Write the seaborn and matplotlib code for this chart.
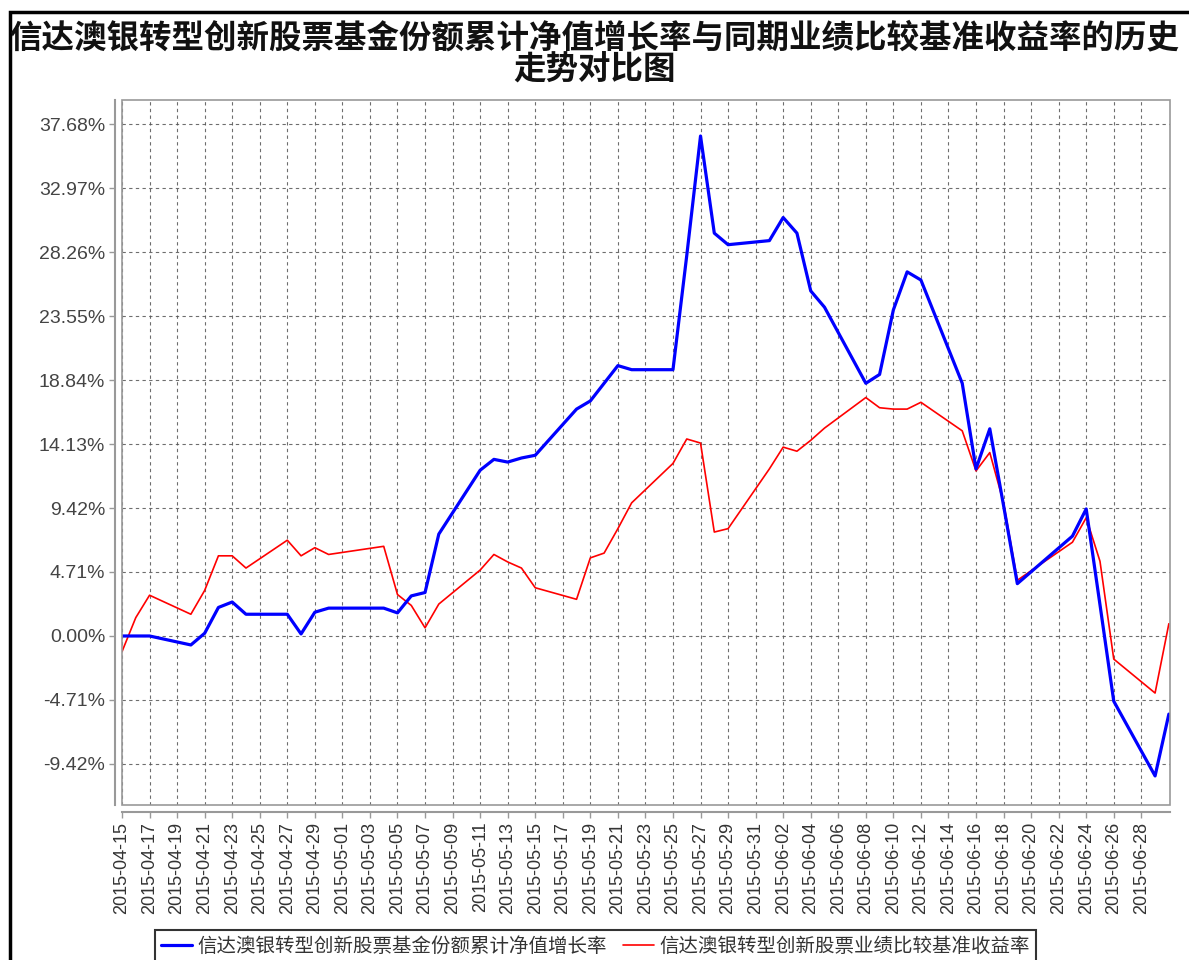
import matplotlib
matplotlib.use("Agg")
import matplotlib.pyplot as plt
import matplotlib.dates as mdates
from matplotlib.patches import Rectangle
import seaborn as sns
import pandas as pd

# ---------------- data ----------------
dates = [
    "2015-04-15", "2015-04-16", "2015-04-17", "2015-04-20", "2015-04-21", "2015-04-22",
    "2015-04-23", "2015-04-24", "2015-04-27", "2015-04-28", "2015-04-29", "2015-04-30",
    "2015-05-04", "2015-05-05", "2015-05-06", "2015-05-07", "2015-05-08", "2015-05-11",
    "2015-05-12", "2015-05-13", "2015-05-14", "2015-05-15", "2015-05-18", "2015-05-19",
    "2015-05-20", "2015-05-21", "2015-05-22", "2015-05-25", "2015-05-26", "2015-05-27",
    "2015-05-28", "2015-05-29",
    "2015-06-01", "2015-06-02", "2015-06-03", "2015-06-04", "2015-06-05", "2015-06-08",
    "2015-06-09", "2015-06-10", "2015-06-11", "2015-06-12", "2015-06-15", "2015-06-16",
    "2015-06-17", "2015-06-18", "2015-06-19", "2015-06-23", "2015-06-24", "2015-06-25",
    "2015-06-26", "2015-06-29", "2015-06-30",
]

fund_growth = [
    0.00, 0.00, 0.00, -0.66, 0.20, 2.10, 2.50, 1.60, 1.60, 0.15, 1.75, 2.05,
    2.05, 1.70, 2.95, 3.20, 7.50, 12.20, 13.00, 12.80, 13.10, 13.30, 16.70, 17.30,
    18.60, 19.90, 19.60, 19.60, 28.00, 36.80, 29.65, 28.80,
    29.10, 30.80, 29.65, 25.40, 24.20, 18.60, 19.25, 24.00, 26.80, 26.20, 18.60, 12.30,
    15.25, 9.60, 3.85, 7.35, 9.35, 2.30, -4.80, -10.30, -5.75,
]

benchmark_return = [
    -1.15, 1.35, 3.00, 1.60, 3.35, 5.90, 5.90, 5.00, 7.05, 5.90, 6.50, 6.00,
    6.60, 3.05, 2.25, 0.60, 2.35, 4.85, 6.00, 5.45, 5.00, 3.55, 2.70, 5.75,
    6.10, 7.90, 9.80, 12.70, 14.50, 14.20, 7.65, 7.90,
    12.30, 13.90, 13.60, 14.40, 15.30, 17.55, 16.80, 16.70, 16.70, 17.20, 15.10, 12.15,
    13.50, 9.80, 4.10, 6.90, 8.70, 5.50, -1.70, -4.20, 0.90,
]

ytick_values = [-9.42, -4.71, 0.00, 4.71, 9.42, 14.13, 18.84, 23.55, 28.26, 32.97, 37.68]
ytick_labels = ["-9.42%", "-4.71%", "0.00%", "4.71%", "9.42%", "14.13%",
                "18.84%", "23.55%", "28.26%", "32.97%", "37.68%"]

title_line1 = "信达澳银转型创新股票基金份额累计净值增长率与同期业绩比较基准收益率的历史"
title_line2 = "走势对比图"
fund_label = "信达澳银转型创新股票基金份额累计净值增长率"
bench_label = "信达澳银转型创新股票业绩比较基准收益率"

# ---------------- style ----------------
sns.set_theme(style="white")
plt.rcParams["font.family"] = ["Liberation Sans", "Noto Sans CJK SC", "DejaVu Sans"]

W, H = 1189, 960
fig = plt.figure(figsize=(W / 100, H / 100), dpi=100)
fig.patch.set_facecolor("white")

left, right, top, bottom = 122, 1170, 100, 805
ax = fig.add_axes([left / W, 1 - bottom / H, (right - left) / W, (bottom - top) / H])

df_fund = pd.DataFrame({"date": pd.to_datetime(dates), "value": fund_growth})
df_bench = pd.DataFrame({"date": pd.to_datetime(dates), "value": benchmark_return})

sns.lineplot(data=df_fund, x="date", y="value", ax=ax, color="#0000FF",
             linewidth=2.3, label=fund_label, zorder=4)
sns.lineplot(data=df_bench, x="date", y="value", ax=ax, color="#FF0000",
             linewidth=1.2, label=bench_label, zorder=3)

handles, labels = ax.get_legend_handles_labels()
if ax.get_legend() is not None:
    ax.get_legend().remove()

ax.set_xlim(pd.Timestamp("2015-04-15"), pd.Timestamp("2015-06-30") + pd.Timedelta(hours=2))
ax.set_ylim(-12.44, 39.45)

xt = pd.date_range("2015-04-15", "2015-06-28", freq="2D")
ax.set_xticks(xt)
ax.xaxis.set_major_formatter(mdates.DateFormatter("%Y-%m-%d"))
ax.set_yticks(ytick_values)
ax.set_yticklabels(ytick_labels)
ax.set_xlabel("")
ax.set_ylabel("")

ax.grid(True, color="#555555", linestyle=(0, (3, 3)), linewidth=0.8, alpha=0.85)

for s in ["top", "right"]:
    ax.spines[s].set_visible(False)
for s in ["left", "bottom"]:
    ax.spines[s].set_position(("outward", 5))
    ax.spines[s].set_color("#999999")
    ax.spines[s].set_linewidth(1.5)

ax.add_patch(Rectangle((0, 0), 1, 1, transform=ax.transAxes, fill=False,
                       edgecolor="#999999", linewidth=1.2, clip_on=False, zorder=5))

ax.tick_params(axis="y", which="major", left=True, length=4, width=1, color="#999999",
               labelsize=14, labelcolor="#444444", pad=3)
ax.tick_params(axis="x", which="major", bottom=True, length=4, width=1, color="#999999",
               labelsize=13, labelcolor="#333333", pad=3, labelrotation=90)

# titles
fig.text(0.5, 1 - 38 / H, title_line1, ha="center", va="center", fontsize=23.4,
         fontweight="bold", family=["Noto Sans CJK SC", "DejaVu Sans"], color="#111111")
fig.text(0.5, 1 - 70 / H, title_line2, ha="center", va="center", fontsize=23.4,
         fontweight="bold", family=["Noto Sans CJK SC", "DejaVu Sans"], color="#111111")

# legend
leg = fig.legend(handles, labels, loc="upper left", bbox_to_anchor=(155 / W, 1 - 930 / H),
                 ncol=2, frameon=True, fancybox=False, edgecolor="black",
                 prop={"family": ["Noto Sans CJK SC", "DejaVu Sans"], "size": 14},
                 handlelength=1.6, handletextpad=0.3, columnspacing=0.8,
                 borderpad=0.3, borderaxespad=0)
leg.get_frame().set_linewidth(1.5)
for t in leg.get_texts():
    t.set_color("#333333")

# outer border
fig.patches.append(Rectangle((10 / W, -0.05), 1.2, 1 - 12 / H + 0.05,
                             transform=fig.transFigure, fill=False,
                             edgecolor="black", linewidth=2.5))

fig.savefig("out.png", dpi=100, facecolor="white")
